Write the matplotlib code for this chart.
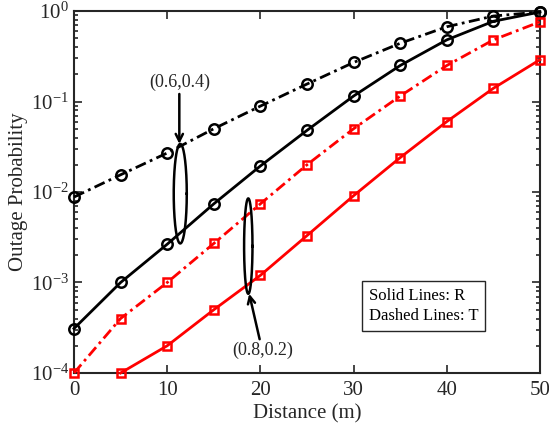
import matplotlib.pyplot as plt
import numpy as np

plt.rcParams['font.family'] = ['Liberation Serif', 'DejaVu Serif']
plt.rcParams['mathtext.fontset'] = 'stix'

dist = [0, 5, 10, 15, 20, 25, 30, 35, 40, 45, 50]
dist_r2 = [5, 10, 15, 20, 25, 30, 35, 40, 45, 50]

t_064 = [0.0088, 0.0155, 0.027, 0.05, 0.089, 0.156, 0.27, 0.44, 0.67, 0.88, 0.975]
r_064 = [3.1e-4, 1.0e-3, 2.65e-3, 7.4e-3, 0.0194, 0.048, 0.115, 0.25, 0.48, 0.77, 0.975]
t_082 = [1.0e-4, 4.0e-4, 1.0e-3, 2.7e-3, 7.4e-3, 0.02, 0.05, 0.115, 0.25, 0.48, 0.76]
r_082 = [1.0e-4, 2.0e-4, 5.0e-4, 1.2e-3, 3.3e-3, 9.1e-3, 0.024, 0.06, 0.14, 0.29]

gray = '#262626'

fig = plt.figure(figsize=(5.49, 4.32), dpi=100)
ax = fig.add_axes([0.1348, 0.1366, 0.8488, 0.8379])

dd = (0, (4, 1.6, 1, 1.6))
ax.plot(dist, t_064, 'k', ls=dd, lw=2, marker='o', ms=7.5, mfc='none', mew=1.8, clip_on=False, zorder=3)
ax.plot(dist, r_064, 'k-', lw=2, marker='o', ms=7.5, mfc='none', mew=1.8, clip_on=False, zorder=3)
ax.plot(dist, t_082, 'r', ls=dd, lw=2, marker='s', ms=6, mfc='none', mew=1.8, clip_on=False, zorder=3)
ax.plot(dist_r2, r_082, 'r-', lw=2, marker='s', ms=6, mfc='none', mew=1.8, clip_on=False, zorder=3)

ax.set_yscale('log')
ax.set_xlim(0, 50)
ax.set_ylim(1e-4, 1)
ax.set_xticks([0, 10, 20, 30, 40, 50])
ax.tick_params(which='both', direction='in', top=True, right=True, labelsize=15,
               width=1.2, color=gray, labelcolor=gray)
ax.tick_params(which='major', length=6)
ax.tick_params(which='minor', length=3)
ax.tick_params(axis='x', pad=6)
for s in ax.spines.values():
    s.set_linewidth(1.5)
    s.set_color(gray)

ax.set_xlabel('Distance (m)', fontsize=15, labelpad=3, color=gray)
ax.set_ylabel('Outage Probability', fontsize=15, labelpad=2, color=gray)


def log_ellipse(xc, y_lo, y_hi, w):
    t = np.linspace(0, 2 * np.pi, 200)
    lc = (np.log10(y_lo) + np.log10(y_hi)) / 2
    lh = (np.log10(y_hi) - np.log10(y_lo)) / 2
    ax.plot(xc + w / 2 * np.cos(t), 10 ** (lc + lh * np.sin(t)), 'k-', lw=1.8, zorder=4)


log_ellipse(11.4, 0.0027, 0.034, 1.4)
log_ellipse(18.7, 7.5e-4, 0.0085, 0.9)

ax.annotate('(0.6,0.4)', xy=(11.3, 0.034), xytext=(11.3, 0.13), fontsize=13,
            ha='center', va='bottom', color=gray,
            arrowprops=dict(arrowstyle='->', lw=1.8, color='k', shrinkA=0, shrinkB=0))
ax.annotate('(0.8,0.2)', xy=(18.8, 7.5e-4), xytext=(20.2, 2.2e-4), fontsize=13,
            ha='center', va='top', color=gray,
            arrowprops=dict(arrowstyle='->', lw=1.8, color='k', shrinkA=0, shrinkB=0))

ax.text(31.6, 5.5e-4, 'Solid Lines: R\nDashed Lines: T', fontsize=12, va='center', ha='left',
        linespacing=1.35,
        bbox=dict(boxstyle='square,pad=0.4', fc='white', ec=gray, lw=1))

fig.savefig('out.png', dpi=100)
